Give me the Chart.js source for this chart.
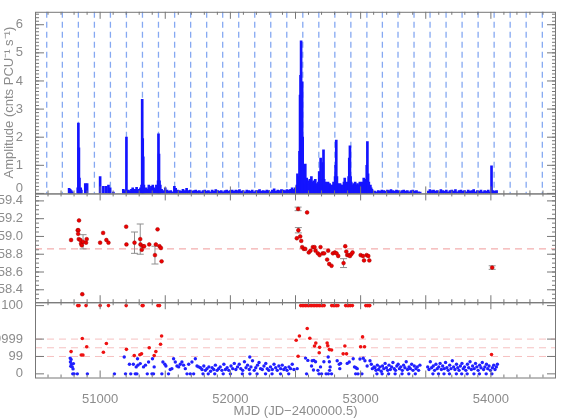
<!DOCTYPE html>
<html>
<head>
<meta charset="utf-8">
<script src="https://cdn.jsdelivr.net/npm/chart.js@4.4.1/dist/chart.umd.min.js"></script>
<style>
  html, body { margin: 0; padding: 0; background: #fff; }
</style>
</head>
<body>
<canvas id="chart" width="568" height="419"></canvas>
<script>
// top panel: pulse amplitude light curve  [MJD, amplitude]
const amplitude = [
  [50762,0.18],[50770,0.15],[50778,0.1],[50786,0.06],[50828,0.2],[50833,2.5],[50837,1.62],[50841,0.55],
  [50846,0.15],[50851,0.2],[50856,0.12],[50886,0.35],[50900,0.35],
  [51000,0.6],[51025,0.25],[51046,0.25],[51064,0.3],[51077,0.2],[51102,0.05],
  [51178,0.15],[51190,0.1],[51202,2.0],[51208,0.1],[51218,0.12],[51230,0.08],[51240,0.15],[51250,0.2],
  [51260,0.1],[51270,0.15],[51280,0.22],[51290,0.12],[51300,0.15],[51310,0.2],[51318,0.3],[51323,3.35],
  [51327,1.95],[51331,1.3],[51336,0.3],[51344,0.15],[51354,0.2],[51364,0.15],[51374,0.3],[51384,0.2],
  [51394,0.25],[51404,0.3],[51414,0.2],[51424,0.15],[51432,0.3],[51440,0.25],[51445,0.45],[51448,2.12],
  [51452,1.4],[51456,0.45],[51462,0.3],[51472,0.15],[51486,0.1],[51500,0.2],[51514,0.12],[51528,0.08],
  [51542,0.1],[51556,0.06],[51570,0.25],[51580,0.18],[51594,0.12],[51608,0.1],[51622,0.08],[51636,0.15],
  [51650,0.1],[51664,0.18],[51678,0.1],[51692,0.12],[51706,0.08],[51720,0.1],[51734,0.12],[51748,0.08],
  [51762,0.1],[51776,0.06],[51790,0.1],[51804,0.12],[51818,0.08],[51832,0.1],[51846,0.06],[51860,0.12],
  [51874,0.08],[51888,0.14],[51902,0.1],[51916,0.08],[51930,0.1],[51944,0.06],[51958,0.1],[51972,0.12],
  [51986,0.08],[52000,0.1],[52014,0.12],[52028,0.08],[52042,0.12],[52056,0.1],[52070,0.14],[52084,0.08],
  [52098,0.1],[52112,0.06],[52126,0.12],[52140,0.1],[52154,0.08],[52168,0.12],[52182,0.06],[52196,0.1],
  [52210,0.1],[52224,0.14],[52238,0.08],[52252,0.1],[52266,0.08],[52280,0.12],[52294,0.1],[52308,0.06],
  [52322,0.12],[52336,0.16],[52350,0.08],[52364,0.12],[52378,0.1],[52392,0.14],[52406,0.12],[52420,0.1],
  [52434,0.14],[52448,0.12],[52462,0.15],[52474,0.2],
  [52480,0.12],[52486,0.1],[52492,0.15],[52498,0.2],[52504,0.12],[52510,0.3],[52515,0.7],[52520,0.25],
  [52526,0.6],[52531,1.5],[52535,3.5],[52539,4.2],[52543,5.43],[52547,3.0],[52551,3.97],[52555,2.0],
  [52559,0.8],[52563,0.5],[52568,0.35],[52575,1.04],[52580,0.3],[52586,0.55],[52592,0.4],[52598,0.45],
  [52604,0.3],[52610,0.5],[52616,0.35],[52622,0.6],[52628,0.4],[52634,0.3],[52640,0.45],[52646,0.25],
  [52652,0.5],[52658,0.3],[52664,0.35],[52670,0.25],[52676,0.4],[52682,0.78],[52688,0.5],[52693,1.26],
  [52698,0.4],[52704,0.5],[52710,1.1],[52715,1.55],[52720,0.5],[52726,0.3],[52732,0.4],[52738,0.25],
  [52744,0.3],[52750,0.4],[52756,0.2],[52762,0.35],[52768,0.3],[52774,0.25],[52780,0.3],[52786,0.2],
  [52792,0.4],[52798,0.35],[52804,0.6],[52808,1.0],[52813,1.9],[52818,0.6],[52824,0.35],[52830,0.3],
  [52836,0.2],[52842,0.35],[52848,0.3],[52854,0.2],[52860,0.3],[52866,0.25],[52872,0.4],[52878,0.55],
  [52884,0.3],[52890,0.35],[52896,0.4],[52902,0.3],[52908,0.6],[52913,1.26],[52918,1.69],[52923,0.6],
  [52928,0.4],[52934,0.3],[52940,0.25],[52946,0.35],[52952,0.3],[52958,0.4],[52964,0.2],[52970,0.3],
  [52976,0.35],[52982,0.2],[52988,0.3],[52994,0.4],[53000,0.35],[53006,0.25],[53012,0.4],[53018,0.3],
  [53024,0.55],[53030,0.3],[53036,0.4],[53042,0.5],[53047,1.0],[53052,1.84],[53057,0.7],[53063,0.4],
  [53069,0.25],[53075,0.3],[53081,0.2],[53087,0.15],
  [53093,0.05],[53107,0.08],[53121,0.06],[53135,0.1],[53149,0.08],[53163,0.12],[53177,0.1],[53191,0.08],
  [53205,0.12],[53219,0.1],[53233,0.14],[53247,0.1],[53261,0.08],[53275,0.12],[53289,0.1],[53303,0.06],
  [53317,0.1],[53331,0.12],[53345,0.08],[53359,0.1],[53373,0.06],[53387,0.1],[53401,0.12],[53415,0.08],
  [53429,0.1],[53443,0.06],[53457,0.05],
  [53520,0.08],[53532,0.14],[53546,0.1],[53560,0.12],[53574,0.08],[53588,0.1],[53602,0.06],[53616,0.14],
  [53630,0.1],[53644,0.08],[53658,0.12],[53672,0.06],[53686,0.1],[53700,0.12],[53714,0.08],[53728,0.14],
  [53742,0.06],[53756,0.1],[53770,0.12],[53784,0.08],[53798,0.1],[53812,0.06],[53826,0.12],[53840,0.08],
  [53854,0.1],[53868,0.14],[53882,0.06],[53896,0.1],[53910,0.08],[53924,0.12],[53938,0.06],[53952,0.1],
  [53966,0.08],[53980,0.12],[53994,0.06],[54005,0.98],[54016,0.1],[54030,0.08],[54044,0.1]
];

// predicted outburst epochs (dashed lines, top panel)
const outburstMJD = [50590,50710,50833,50956,51079,51202,51325,51448,51572,51695,51818,51941,52064,52187,
  52310,52433,52556,52679,52802,52925,53048,53167,53287,53410,53533,53656,53779,53902,54025,54148,54271,54395];

// middle panel: pulse frequency  [MJD, value, error]
const freq = [
  [50777,58.96,0],[50838,59.18,0],[50828,59.07,0],[50833,59.07,0],[50831,59.03,0],[50836,58.97,0],
  [50848,58.96,0],[50854,58.92,0],[50859,58.90,0],[50869,58.94,0.08],[50892,58.93,0],[50897,58.97,0],
  [50863,58.35,0],[51000,58.93,0],[51023,59.04,0],[51048,58.96,0],[51064,58.93,0],[51200,59.11,0],
  [51202,58.91,0],[51264,58.93,0.12],[51308,58.97,0.17],[51310,58.91,0],[51320,58.85,0],[51328,58.89,0],
  [51338,58.89,0],[51377,58.91,0],[51421,58.79,0.1],[51428,58.91,0],[51441,59.08,0],[51456,58.89,0],
  [51467,58.87,0],[51472,58.72,0],
  [52520,59.31,0.02],[52589,59.27,0],[52522,59.07,0.03],[52510,58.98,0],[52536,59.00,0],[52544,58.95,0],
  [52551,58.88,0],[52564,58.86,0],[52575,58.86,0],[52602,58.82,0],[52615,58.84,0],[52633,58.88,0],
  [52646,58.88,0],[52654,58.84,0],[52672,58.81,0],[52685,58.79,0],[52692,58.88,0],[52708,58.81,0],
  [52720,58.81,0],[52743,58.74,0],[52751,58.84,0],[52759,58.69,0],[52777,58.67,0],[52787,58.81,0],
  [52802,58.82,0],[52815,58.81,0],[52828,58.78,0],[52869,58.70,0.05],[52882,58.89,0],[52890,58.83,0],
  [52897,58.79,0],[52908,58.79,0],[52918,58.78,0],[52928,58.80,0],[52938,58.82,0],[53000,58.79,0],
  [53018,58.78,0],[53026,58.73,0],[53046,58.79,0],[53059,58.78,0],[53067,58.73,0],[54010,58.65,0.02]
];
const meanFreq = 58.86;

// bottom panel: detection significance, plotted as level -log10(1 - p) - 2
const sigTicks = [-2, 0, 2, 5.85];
const sigLabels = ['0', '99', '9999', '100'];
const sigLines = [0, 1, 2];

const sigBlue = [
  [50770,-0.19],[50777,-0.34],[50772,-0.64],[50780,-0.9],[50786,-1.2],[50792,-1.43],[50775,-1.12],[50795,-0.82],
  [50790,-2],[50800,-2],[50825,-2],[50902,-2],[51110,-2],
  [51185,-0.07],[51195,-2],[51225,-0.9],[51255,-0.9],[51290,-1.0],[51235,-2],[51270,-2],[51282,-2],[51277,-1.2],
  [51287,-0.26],[51308,-0.82],[51333,-1.2],[51348,-1.0],[51362,-2],[51398,-2],[51410,-2],[51372,-0.64],
  [51402,-0.26],[51415,-1.2],[51482,-0.64],[51497,-0.9],[51505,-1.1],[51474,-2],[51525,-2],[51538,-1.5],
  [51551,-1.4],[51564,-0.26],[51577,-0.64],[51590,-1.1],[51603,-1.2],[51615,-0.9],[51628,-0.64],[51641,-1.0],
  [51654,-1.4],[51667,-2],[51692,-2],[51718,-2],[51680,-0.9],[51705,-0.64],[51731,-0.26],[51744,-1.1],[51757,-1.2],
  [51770,-1.3],[51782,-1.5],[51790,-2],[51796,-1.1],[51808,-1.6],[51820,-1.4],[51830,-2],[51835,-1.2],
  [51848,-1.7],[51860,-1.3],[51872,-1.5],[51880,-2],[51885,-1.0],[51898,-1.6],[51910,-1.4],[51922,-1.2],
  [51935,-1.6],[51945,-2],[51950,-0.9],[51962,-1.5],[51975,-1.3],[51988,-1.6],[52000,-2],[52005,-1.1],
  [52018,-1.4],[52030,-0.8],[52042,-1.5],[52055,-1.2],[52068,-0.9],[52080,-1.4],[52092,-2],[52095,-1.6],
  [52108,-0.6],[52120,-1.3],[52132,-1.0],[52145,-1.5],[52149,-0.07],[52150,-2],[52158,-1.2],[52170,-0.5],
  [52183,-1.6],[52195,-1.3],[52205,-2],[52208,-1.0],[52220,-0.7],[52232,-1.4],[52245,-1.5],[52258,-1.1],
  [52270,-2],[52272,-0.8],[52283,-1.4],[52295,-1.6],[52308,-1.2],[52320,-2],[52322,-1.5],[52335,-0.9],
  [52348,-1.3],[52360,-1.6],[52372,-1.1],[52385,-2],[52386,-1.4],[52398,-1.0],[52410,-1.5],[52422,-1.3],
  [52435,-1.6],[52448,-2],[52450,-1.2],[52462,-1.4],[52475,-0.9],[52488,-1.5],
  [52513,-1.4],[52577,-0.19],[52585,-2],[52595,-0.45],[52628,-0.5],[52641,-0.45],[52654,-0.6],[52623,-1.1],
  [52638,-1.55],[52672,-1.6],[52692,-1.2],[52680,-2],[52700,-2],[52718,-0.6],[52751,-0.07],[52760,-0.6],
  [52766,-1.2],[52762,-1.6],[52735,-2],[52752,-2],[52777,-2],[52820,-0.5],[52836,-0.9],[52846,-0.8],
  [52840,-1.4],[52897,-0.8],[52913,-0.64],[52943,-0.26],[52953,-1.2],[52964,-1.3],[52974,-1.4],[52962,-2],
  [52980,-2],[52995,-0.3],[53020,-0.2],[53010,-2],[53033,-0.5],[53050,-1.1],[53072,-0.5],[53082,-0.9],
  [53090,-1.4],[53103,-1.2],
  [53110,-1.3],[53118,-1.6],[53125,-2],[53128,-1.0],[53138,-1.5],[53148,-1.2],[53158,-1.7],[53165,-2],
  [53168,-1.1],[53178,-1.4],[53188,-0.8],[53198,-1.3],[53208,-1.6],[53215,-2],[53218,-1.0],[53228,-1.5],
  [53238,-1.2],[53248,-0.7],[53258,-1.4],[53265,-2],[53268,-1.6],[53278,-1.1],[53288,-0.9],[53298,-1.4],
  [53308,-1.2],[53318,-2],[53320,-1.6],[53330,-1.0],[53340,-1.3],[53350,-0.6],[53360,-1.5],[53370,-2],
  [53372,-1.2],[53382,-1.4],[53392,-0.9],[53402,-1.6],[53412,-1.1],[53420,-2],[53425,-1.4],[53435,-1.2],
  [53445,-1.6],[53455,-1.0],
  [53515,-1.2],[53525,-1.5],[53535,-0.6],[53545,-1.3],[53555,-2],[53558,-1.1],[53568,-1.6],[53578,-0.9],
  [53588,-1.4],[53598,-2],[53600,-1.2],[53610,-0.8],[53620,-1.5],[53630,-1.1],[53640,-2],[53642,-1.4],
  [53652,-0.7],[53662,-1.3],[53672,-1.6],[53682,-2],[53684,-1.0],[53694,-1.4],[53704,-0.5],[53714,-1.2],
  [53724,-1.5],[53735,-2],[53736,-0.9],[53746,-1.3],[53756,-1.6],[53766,-1.1],[53776,-2],[53778,-0.8],
  [53788,-1.4],[53798,-1.2],[53808,-1.6],[53818,-2],[53820,-0.9],[53830,-1.3],[53840,-0.6],[53850,-1.5],
  [53860,-1.1],[53870,-2],[53872,-1.4],[53882,-0.8],[53892,-1.2],[53902,-1.6],[53912,-2],[53914,-1.0],
  [53924,-1.3],[53934,-0.7],[53944,-1.5],[53954,-1.2],[53964,-2],[53966,-0.9],[53976,-1.4],[53986,-1.1],
  [53996,-1.6],[54008,-2],[54012,-1.3],[54022,-1.0],[54032,-1.5],[54042,-1.2],[54050,-0.9]
];

const sigRed = [
  [50777,0.56],[50828,5.85],[50838,5.85],[50863,2.06],[50855,0.17],[50868,0.17],[50892,5.85],[50897,1.12],
  [51000,5.85],[51025,0.48],[51048,1.49],[51064,5.85],[51200,5.85],[51202,0.82],[51262,0.1],[51305,0.2],
  [51318,0.3],[51323,5.85],[51330,5.85],[51377,1.01],[51415,0.1],[51428,0.56],[51444,5.85],[51456,5.85],
  [51464,1.4],[51472,2.36],
  [52540,5.85],[52552,5.85],[52564,5.85],[52576,5.85],[52588,5.85],[52600,5.85],[52612,5.85],[52624,5.85],
  [52636,5.85],[52648,5.85],[52660,5.85],[52672,5.85],[52684,5.85],[52696,5.85],[52708,5.85],[52720,5.85],
  [52778,5.85],[52790,5.85],[52802,5.85],[52814,5.85],[52826,5.85],
  [52885,5.85],[52897,5.85],[52909,5.85],[52921,5.85],[52937,5.85],
  [53040,5.85],[53052,5.85],[53064,5.85],[53070,5.85],
  [52505,1.87],[52530,2.36],[52520,0.03],[52590,3.22],[52610,2.1],[52646,1.2],[52656,1.54],[52685,1.05],
  [52682,0.42],[52743,1.54],[52748,1.24],[52760,0.79],[52777,0.75],[52879,1.2],[52866,0.3],[52892,0.3],
  [53015,2.25],[53000,1.12],[53030,1.12],[54005,0.22]
];

const mjdTicks = [51000, 52000, 53000, 54000];
const ampTicks = [0, 1, 2, 3, 4, 5, 6];
const freqTicks = [58.4, 58.6, 58.8, 59.0, 59.2, 59.4];

const grey = '#8c8c8c';
const tickFont = { family: 'Liberation Sans', size: 13 };

const toXY = arr => arr.map(p => ({ x: p[0], y: p[1] }));
const setTicks = list => s => { s.ticks = list.map(v => ({ value: v })); };

function hline(ctx, area, y) {
  ctx.beginPath();
  ctx.moveTo(area.left, y);
  ctx.lineTo(area.right, y);
  ctx.stroke();
}

const panelDecor = {
  id: 'panelDecor',
  beforeDatasetsDraw(chart) {
    const { ctx, chartArea: area, scales } = chart;
    const x = scales.x, yA = scales.yA, yB = scales.yB, yC = scales.yC;
    ctx.save();
    // outburst epochs
    ctx.lineWidth = 1.3;
    ctx.strokeStyle = '#86a9f2';
    ctx.setLineDash([6, 4]);
    outburstMJD.forEach(d => {
      const px = x.getPixelForValue(d);
      ctx.beginPath();
      ctx.moveTo(px, yA.top);
      ctx.lineTo(px, yA.bottom);
      ctx.stroke();
    });
    // mean frequency
    ctx.lineWidth = 1;
    ctx.strokeStyle = '#f09a9a';
    ctx.setLineDash([7, 5]);
    hline(ctx, area, yB.getPixelForValue(meanFreq));
    // significance levels
    ctx.strokeStyle = '#f6c0c0';
    sigLines.forEach(l => hline(ctx, area, yC.getPixelForValue(l)));
    // error bars
    ctx.setLineDash([]);
    ctx.strokeStyle = '#8f8f8f';
    freq.forEach(([d, v, e]) => {
      if (!e) return;
      const px = x.getPixelForValue(d);
      const y1 = yB.getPixelForValue(v - e), y2 = yB.getPixelForValue(v + e);
      ctx.beginPath();
      ctx.moveTo(px, y1); ctx.lineTo(px, y2);
      ctx.moveTo(px - 3.5, y1); ctx.lineTo(px + 3.5, y1);
      ctx.moveTo(px - 3.5, y2); ctx.lineTo(px + 3.5, y2);
      ctx.stroke();
    });
    ctx.restore();
  },
  afterDraw(chart) {
    const { ctx, chartArea: area, scales } = chart;
    const x = scales.x;
    const minor = { yA: 0.125, yB: 0.05, yC: 0 };
    ctx.save();
    ctx.strokeStyle = '#777';
    ctx.lineWidth = 1;
    const seg = (x1, y1, x2, y2) => { ctx.beginPath(); ctx.moveTo(x1, y1); ctx.lineTo(x2, y2); ctx.stroke(); };
    ['yA', 'yB', 'yC'].forEach(id => {
      const s = scales[id];
      ctx.strokeRect(area.left + 0.5, s.top + 0.5, area.right - area.left - 1, s.bottom - s.top);
      for (let d = 50600; d < 54500; d += 100) {
        const px = x.getPixelForValue(d);
        const len = d % 500 === 0 ? 7 : 3;
        seg(px, s.top, px, s.top + len);
        seg(px, s.bottom, px, s.bottom - len);
      }
      s.ticks.forEach(t => {
        const py = s.getPixelForValue(t.value);
        seg(area.left, py, area.left + 9, py);
        seg(area.right, py, area.right - 9, py);
      });
      if (minor[id]) {
        const st = minor[id];
        for (let v = Math.ceil(s.min / st) * st; v < s.max; v += st) {
          const py = s.getPixelForValue(v);
          seg(area.left, py, area.left + 4, py);
          seg(area.right, py, area.right - 4, py);
        }
      }
    });
    ctx.restore();
  }
};

const yFit = s => { s.width = 35; };
const noGrid = { display: false };
const noBorder = { display: false };

new Chart('chart', {
  type: 'scatter',
  data: {
    datasets: [
      {
        type: 'bar',
        data: toXY(amplitude),
        yAxisID: 'yA',
        backgroundColor: '#1414ff',
        borderWidth: 0,
        barThickness: 2
      },
      {
        data: toXY(freq),
        yAxisID: 'yB',
        pointRadius: 1.9,
        backgroundColor: '#ee0000',
        borderColor: '#a00000',
        borderWidth: 0.5
      },
      {
        data: toXY(sigBlue),
        yAxisID: 'yC',
        pointRadius: 1.7,
        backgroundColor: '#2020ff',
        borderWidth: 0
      },
      {
        data: toXY(sigRed),
        yAxisID: 'yC',
        pointRadius: 1.8,
        backgroundColor: '#ee1111',
        borderWidth: 0
      }
    ]
  },
  options: {
    responsive: false,
    animation: false,
    events: [],
    layout: { padding: { top: 1, right: 12, left: 0, bottom: 0 } },
    plugins: { legend: { display: false }, tooltip: { enabled: false } },
    scales: {
      x: {
        type: 'linear',
        min: 50500,
        max: 54500,
        offset: false,
        grid: { display: false, offset: false },
        border: noBorder,
        afterBuildTicks: setTicks(mjdTicks),
        ticks: { autoSkip: false, color: grey, font: tickFont, padding: 6, maxRotation: 0,
          callback: v => String(v) },
        title: { display: true, text: 'MJD (JD\u22122400000.5)', color: grey, font: tickFont, padding: { top: 1, bottom: 0 } },
        afterFit: s => { s.height = 41.5; }
      },
      yC: {
        type: 'linear',
        position: 'left',
        stack: 'panels',
        stackWeight: 77.5,
        min: -2.42,
        max: 6.24,
        grid: noGrid,
        border: noBorder,
        afterBuildTicks: setTicks(sigTicks),
        ticks: { autoSkip: false, color: grey, font: tickFont, padding: 4,
          callback: v => sigLabels[sigTicks.indexOf(v)] },
        afterFit: yFit
      },
      yB: {
        type: 'linear',
        position: 'left',
        stack: 'panels',
        stackWeight: 112,
        min: 58.26,
        max: 59.484,
        grid: noGrid,
        border: noBorder,
        afterBuildTicks: setTicks(freqTicks),
        ticks: { autoSkip: false, color: grey, font: tickFont, padding: 4,
          callback: v => v.toFixed(1) },
        afterFit: yFit
      },
      yA: {
        type: 'linear',
        position: 'left',
        stack: 'panels',
        stackWeight: 187,
        min: 0,
        max: 6.46,
        grid: noGrid,
        border: noBorder,
        afterBuildTicks: setTicks(ampTicks),
        ticks: { autoSkip: false, color: grey, padding: 4,
          font: { family: 'Liberation Sans', size: 13, lineHeight: 0.7 },
          callback: v => v === 0 ? ['0', ''] : String(v) },
        title: { display: true, text: 'Amplitude (cnts PCU\u207B\u00B9 s\u207B\u00B9)', color: grey, font: tickFont,
          padding: { top: 2, bottom: 0 } },
        afterFit: yFit
      }
    }
  },
  plugins: [panelDecor]
});
</script>
</body>
</html>
